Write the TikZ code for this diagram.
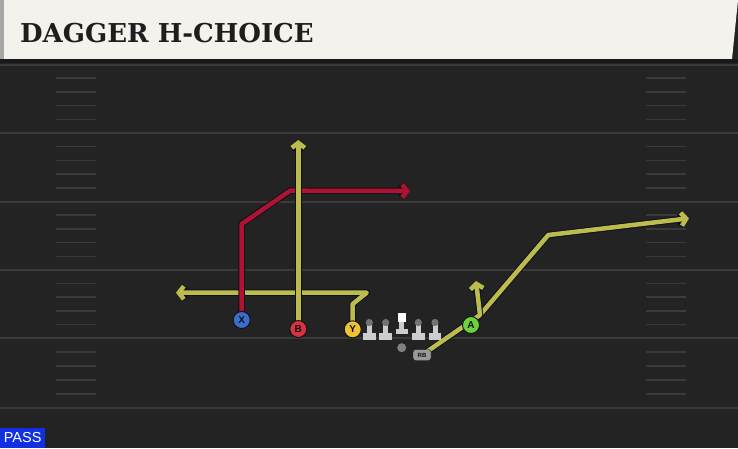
\documentclass[tikz,border=0pt]{standalone}
\usepackage{fontspec}
\setsansfont{Liberation Sans}
\newfontfamily\titlefont{DejaVu Serif}
\usetikzlibrary{arrows.meta, positioning}

\definecolor{fieldbg}{HTML}{232323}
\definecolor{yardline}{HTML}{3A3A3A}
\definecolor{headcream}{HTML}{F4F2EC}
\definecolor{titleink}{HTML}{1E1E1E}
\definecolor{routeyellow}{HTML}{BCBC4E}
\definecolor{routered}{HTML}{B01232}
\definecolor{outline}{HTML}{101018}
\definecolor{xblue}{HTML}{3C6CCC}
\definecolor{bred}{HTML}{D8323E}
\definecolor{yyellow}{HTML}{EEC232}
\definecolor{agreen}{HTML}{6CD23C}
\definecolor{linegray}{HTML}{CDCDCD}
\definecolor{passblue}{HTML}{1230E0}

\pgfdeclarelayer{field}
\pgfdeclarelayer{routes}
\pgfsetlayers{field,routes,main}

\tikzset{
  player/.style={circle, draw=outline, line width=0.9pt, minimum size=17pt, inner sep=0pt,
    font=\sffamily\bfseries\fontsize{10}{10}\selectfont, text=outline},
  route/.style={draw=#1, line width=4.5pt, line join=round,
    preaction={draw=outline, line width=6.5pt, line join=round, -{Straight Barb[length=5pt,width=13pt]}},
    -{Straight Barb[length=5pt,width=13pt]}},
  hash/.style={draw=yardline, line width=1.5pt},
  lineman/.style={fill=linegray}
}

\begin{document}
\begin{tikzpicture}[x=1pt, y=-1pt]
\useasboundingbox (0,0) rectangle (738,448);

% field
\begin{pgfonlayer}{field}
  \fill[fieldbg] (0,0) rectangle (738,448);
  \foreach \ya/\yb in {64.5/133, 133/201.5, 201.5/270, 270/338, 338/408} {
    \draw[yardline, line width=2pt] (0,\ya) -- (738,\ya);
    \foreach \k in {1,...,4} {
      \draw[hash] (56,{\ya+\k*(\yb-\ya)/5}) -- (96,{\ya+\k*(\yb-\ya)/5});
      \draw[hash] (646,{\ya+\k*(\yb-\ya)/5}) -- (686,{\ya+\k*(\yb-\ya)/5});
    }
  }
  \draw[yardline, line width=2pt] (0,408) -- (738,408);
\end{pgfonlayer}

% header
\fill[headcream] (4,0) -- (738,0) -- (732,59) -- (4,59) -- cycle;
\fill[black!35] (0,0) rectangle (4,59);
\fill[black!90] (0,59) rectangle (738,63);
\node[font=\titlefont\bfseries\fontsize{26}{26}\selectfont, text=titleink, anchor=base west, inner sep=0pt] (title) at (20,42) {DAGGER H-CHOICE};

% players
\node[player, fill=xblue] (x_rec) at (241.7,320) {X};
\node[player, fill=bred] (b_rec) at (298.3,329) {B};
\node[player, fill=yyellow] (y_te) at (352.7,329.3) {Y};
\node[player, fill=agreen] (a_back) at (471,325) {A};
\node[circle, fill=black!50, minimum size=9pt, inner sep=0pt] (qb) at (401.7,347.7) {};
\node[draw=outline, fill=black!40, rounded corners=2.5pt, minimum width=18pt, minimum height=11pt, inner sep=0pt,
  font=\sffamily\bfseries\fontsize{6}{6}\selectfont, text=outline] (rb) at (422,355) {RB};

% line
\foreach \lx in {369.3, 385.7, 418.3, 435} {
  \fill[lineman] (\lx-2.5,323) rectangle (\lx+2.5,333.5);
  \fill[lineman] (\lx-6.3,333.3) rectangle (\lx+6.3,339.5);
  \fill[black!55] (\lx,322.5) circle (3.6pt);
}
\fill[white] (397.5,313) rectangle (406,321.8);
\fill[lineman] (399.3,321.8) rectangle (404.2,329.3);
\fill[lineman] (395.5,329.3) rectangle (408.3,333.5);

% routes
\coordinate (x_cut) at (241.7,224);
\coordinate (x_brk) at (290,190.7);
\coordinate (x_end) at (410,191);
\coordinate (b_end) at (298.3,140);
\coordinate (y_stem) at (352.7,304);
\coordinate (y_brk) at (366.7,292.7);
\coordinate (y_end) at (176,292.7);
\coordinate (fork) at (480,315);
\coordinate (rb_end) at (476,281);
\coordinate (a_brk) at (548.3,235);
\coordinate (a_end) at (689,218.3);

\begin{pgfonlayer}{routes}
  \draw[route=routeyellow] (y_te.center) -- (y_stem) -- (y_brk) -- (y_end);
  \draw[route=routered] (x_rec.center) -- (x_cut) -- (x_brk) -- (x_end);
  \draw[route=routeyellow] (b_rec.center) -- (b_end);
  \draw[route=routeyellow] (a_back.center) -- (fork) -- (a_brk) -- (a_end);
  \draw[route=routeyellow] (rb.center) -- (fork) -- (rb_end);
\end{pgfonlayer}

% play type
\node[fill=passblue, text=white, font=\sffamily\fontsize{14.5}{14.5}\selectfont, minimum width=45pt, minimum height=20pt,
  inner sep=0pt, anchor=south west] (play_type) at (0,448) {PASS};
\end{tikzpicture}
\end{document}
